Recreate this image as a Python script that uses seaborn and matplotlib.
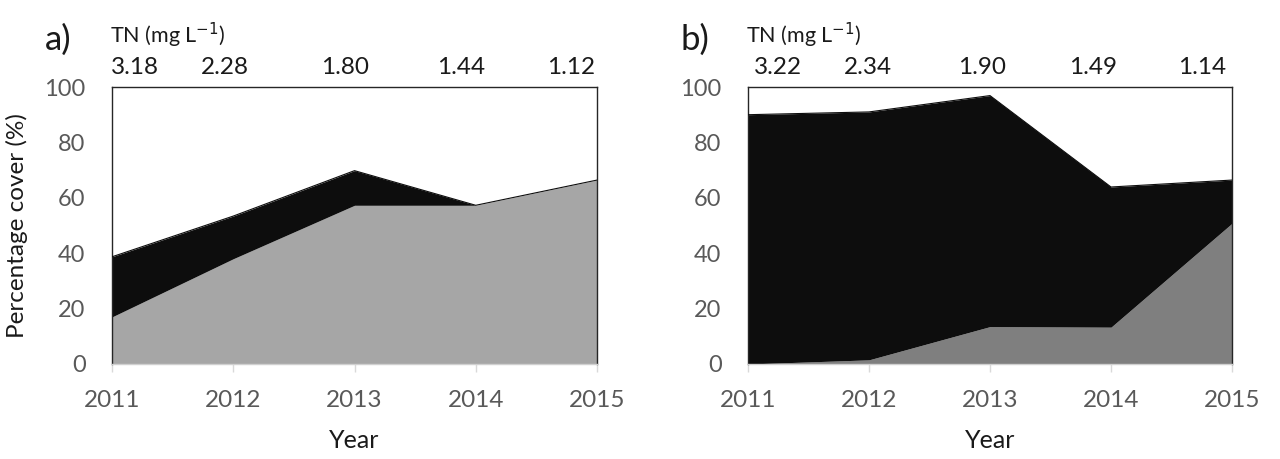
import matplotlib
matplotlib.use("Agg")
import matplotlib.pyplot as plt
import seaborn as sns
import pandas as pd

sns.set_theme(style="white")
plt.rcParams['font.family'] = ['Lato', 'DejaVu Sans']

# ---- data ----
years = [2011, 2012, 2013, 2014, 2015]
a_gray = [17.0, 38.0, 57.3, 57.3, 66.4]
a_black = [21.7, 15.4, 12.5, 0.0, 0.0]
b_gray = [0.0, 1.5, 13.5, 13.3, 50.8]
b_black = [90.0, 89.5, 83.4, 50.6, 15.6]
tn_a = ["3.18", "2.28", "1.80", "1.44", "1.12"]
tn_b = ["3.22", "2.34", "1.90", "1.49", "1.14"]
tn_a_pos = [0.047, 0.233, 0.481, 0.72, 0.946]
tn_b_pos = [0.063, 0.247, 0.483, 0.713, 0.939]
yticks = [0, 20, 40, 60, 80, 100]

W, H = 1280, 459
fig = plt.figure(figsize=(W / 100, H / 100), dpi=100)

def px_axes(left, top, right, bottom):
    return fig.add_axes([left / W, 1 - bottom / H, (right - left) / W, (bottom - top) / H])

ax_a = px_axes(112, 87, 597, 364)
ax_b = px_axes(748, 87, 1232, 364)

panels = [
    (ax_a, a_gray, a_black, "#a6a6a6", tn_a, tn_a_pos, "a)"),
    (ax_b, b_gray, b_black, "#7f7f7f", tn_b, tn_b_pos, "b)"),
]

for ax, g, b, gcol, tn, tnpos, lab in panels:
    df = pd.DataFrame({"Year": years, "gray": g, "black": b})
    df["total"] = df["gray"] + df["black"]
    ax.fill_between(df["Year"], 0, df["gray"], color=gcol, linewidth=0, zorder=2)
    ax.fill_between(df["Year"], df["gray"], df["total"], color="#0d0d0d", linewidth=0, zorder=2)
    sns.lineplot(data=df, x="Year", y="total", ax=ax, color="#0d0d0d", linewidth=0.8, zorder=3)
    ax.set_xlim(2011, 2015)
    ax.set_ylim(0, 100)
    ax.set_xticks(years)
    ax.set_xticklabels([str(y) for y in years])
    ax.set_yticks(yticks)
    ax.tick_params(axis="x", direction="out", length=6, width=1, color="#d9d9d9",
                   pad=13, labelsize=17.5, labelcolor="#595959", bottom=True)
    ax.tick_params(axis="y", length=0, pad=19, labelsize=17, labelcolor="#595959", left=True)
    for side in ["left", "top", "right"]:
        ax.spines[side].set_visible(True)
        ax.spines[side].set_color("#262626")
        ax.spines[side].set_linewidth(1.0)
    ax.spines["bottom"].set_color("#d0d0d0")
    ax.spines["bottom"].set_linewidth(1.0)
    ax.set_xlabel("Year", fontsize=18, color="#1a1a1a")
    ax.xaxis.set_label_coords(0.5, -0.235)
    ax.set_ylabel("")
    for t, p in zip(tn, tnpos):
        ax.text(p, 1.07, t, transform=ax.transAxes, ha="center", va="center",
                fontsize=17.5, color="#1a1a1a")
    ax.text(-0.005, 1.185, "TN (mg L$^{-1}$)", transform=ax.transAxes, ha="left",
            va="center", fontsize=15.5, color="#1a1a1a")
    ax.text(-0.11, 1.17, lab, transform=ax.transAxes, ha="center", va="center",
            fontsize=25, color="#1a1a1a")

ax_a.set_ylabel("Percentage cover (%)", fontsize=17.5, color="#1a1a1a")
ax_a.yaxis.set_label_coords(-0.173, 0.5)

fig.savefig("out.png", dpi=100, facecolor="white")
